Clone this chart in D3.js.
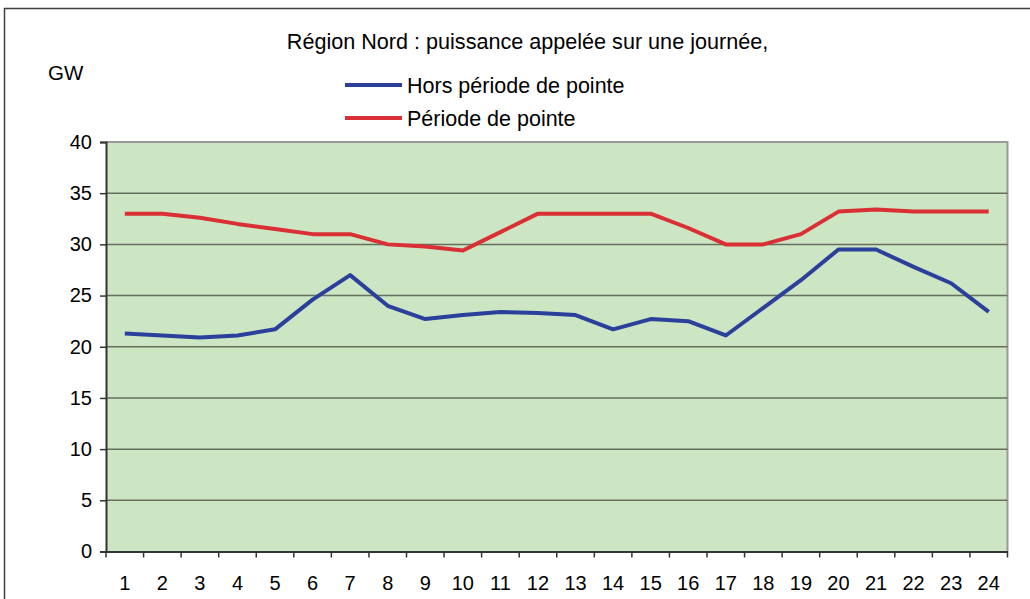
<!DOCTYPE html>
<html><head><meta charset="utf-8">
<script src="https://cdn.jsdelivr.net/npm/d3@7"></script>
<style>body{margin:0;background:#fff}svg{display:block}text{font-family:"Liberation Sans",Arial,sans-serif;fill:#000}</style>
</head><body><svg id="c" width="1030" height="599"></svg>
<script>
const hours = d3.range(1, 25).map(String);
const horsPointe = [21.3,21.1,20.9,21.1,21.7,24.6,27.0,24.0,22.7,23.1,23.4,23.3,23.1,21.7,22.7,22.5,21.1,23.8,26.5,29.5,29.5,27.8,26.2,23.4];
const pointe = [33.0,33.0,32.6,32.0,31.5,31.0,31.0,30.0,29.8,29.4,31.2,33.0,33.0,33.0,33.0,31.6,30.0,30.0,31.0,33.2,33.4,33.2,33.2,33.2];
const yTicks = [0,5,10,15,20,25,30,35,40];
const title = "Région Nord : puissance appelée sur une journée,";
const unit = "GW";
const seriesNames = ["Hors période de pointe","Période de pointe"];
const colors = ["#2b409b","#d92f35"];

const svg = d3.select("#c");
svg.append("rect").attr("x",4.5).attr("y",8.5).attr("width",1040).attr("height",620)
  .attr("fill","none").attr("stroke","#404040").attr("stroke-width",1.5);

const L=106, R=1007.5, T=142, B=551.5;
const x = d3.scaleBand().domain(hours).range([L,R]);
const y = d3.scaleLinear().domain([0,40]).range([B,T]);

svg.append("rect").attr("x",L).attr("y",T).attr("width",R-L).attr("height",B-T).attr("fill","#cce5c3");
svg.append("path").attr("d",`M${L},${T}H${R}V${B}`).attr("fill","none").attr("stroke","#9a9a9a").attr("stroke-width",2);
svg.append("g").selectAll("line").data(yTicks.filter(d=>d>0&&d<40)).join("line")
  .attr("x1",L).attr("x2",R).attr("y1",d=>y(d)).attr("y2",d=>y(d))
  .attr("stroke","#66705f").attr("stroke-width",1.5);

const ya = svg.append("g").attr("transform",`translate(${L},0)`)
  .call(d3.axisLeft(y).tickValues(yTicks).tickSize(6).tickPadding(8).tickFormat(d3.format("d")));
ya.select(".domain").attr("stroke","#333").attr("stroke-width",2);
ya.selectAll(".tick line").attr("stroke","#333").attr("stroke-width",1.5);
ya.selectAll("text").attr("font-size",20).attr("font-family","Liberation Sans, Arial, sans-serif").attr("fill","#000");

const xa = svg.append("g").attr("transform",`translate(0,${B})`)
  .call(d3.axisBottom(x).tickSize(0).tickPadding(24));
xa.select(".domain").attr("stroke","#333").attr("stroke-width",2);
xa.selectAll("text").attr("font-size",20).attr("font-family","Liberation Sans, Arial, sans-serif").attr("fill","#000");
const bounds = hours.map(h=>x(h)).concat([R]);
svg.append("g").selectAll("line").data(bounds).join("line")
  .attr("x1",d=>d).attr("x2",d=>d).attr("y1",B).attr("y2",B+6)
  .attr("stroke","#333").attr("stroke-width",1.5);

const line = d3.line().x((d,i)=>x(hours[i])+x.bandwidth()/2).y(d=>y(d));
[horsPointe,pointe].forEach((s,k)=>{
  svg.append("path").datum(s).attr("d",line).attr("fill","none")
    .attr("stroke",colors[k]).attr("stroke-width",4).attr("stroke-linejoin","round");
});

svg.append("text").attr("x",527.5).attr("y",49).attr("text-anchor","middle").attr("font-size",21.6).text(title);
svg.append("text").attr("x",48).attr("y",80).attr("font-size",20.5).text(unit);
seriesNames.forEach((n,k)=>{
  const ly = 85 + k*33;
  svg.append("line").attr("x1",345).attr("x2",402).attr("y1",ly).attr("y2",ly).attr("stroke",colors[k]).attr("stroke-width",4);
  svg.append("text").attr("x",407).attr("y",ly+7.5).attr("font-size",21.5).text(n);
});
</script></body></html>
